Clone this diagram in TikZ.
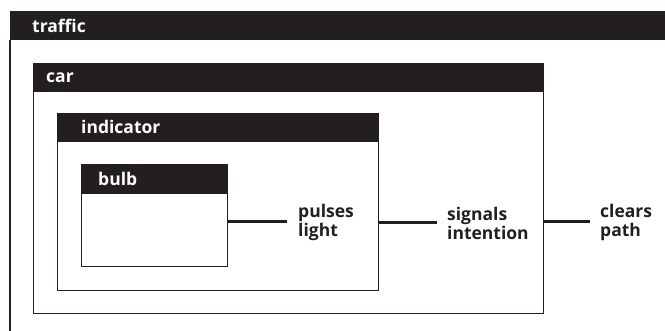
\documentclass[tikz,border=0pt]{standalone}
\usepackage{fontspec}
\setmainfont{Open Sans}
\definecolor{ink}{HTML}{231F20}
\begin{document}
\begin{tikzpicture}[x=1pt,y=-1pt,
  box/.style={draw=ink, line width=1.3pt, anchor=north west, inner sep=0pt},
  head/.style={fill=ink, draw=ink, line width=0.8pt, anchor=north west, inner sep=0pt, minimum height=28pt},
  htext/.style={anchor=base west, inner sep=0pt, text=white, font=\bfseries\fontsize{17.5}{19}\selectfont},
  lbl/.style={anchor=west, align=left, inner sep=0pt, text=ink, font=\bfseries\fontsize{17.5}{19}\selectfont},
  link/.style={draw=ink, line width=3pt}]
\useasboundingbox (0,0) rectangle (665,331);
\clip (0,0) rectangle (665,331);
% traffic
\node[head, minimum width=700pt] (trafficH) at (10,11) {};
\draw[draw=ink, line width=1.3pt] (trafficH.south west) -- ++(0,320) coordinate (trafficEnd);
\node[htext] (trafficT) at (32,33) {traffic};
% car
\node[box, minimum width=510pt, minimum height=250pt] (car) at (33,63) {};
\node[head, minimum width=510pt] (carH) at (33,63) {};
\node[htext] (carT) at (46,83) {car};
% indicator
\node[box, minimum width=321pt, minimum height=177pt] (indicator) at (57,113) {};
\node[head, minimum width=321pt] (indicatorH) at (57,113) {};
\node[htext] (indicatorT) at (81,134) {indicator};
% bulb
\node[box, minimum width=146pt, minimum height=102pt] (bulb) at (81,164) {};
\node[head, minimum width=146pt, minimum height=29pt] (bulbH) at (81,164) {};
\node[htext] (bulbT) at (98,186) {bulb};
% labels
\node[lbl] (pl) at (298,222) {pulses\\light};
\node[lbl] (si) at (447,223) {signals\\intention};
\node[lbl] (cp) at (600,222) {clears\\path};
% connectors
\draw[link] (bulb.east |- pl.west) -- ([xshift=-11pt]pl.west);
\draw[link] (indicator.east |- si.west) -- ([xshift=-10pt]si.west);
\draw[link] (car.east |- cp.west) -- ([xshift=-10pt]cp.west);
\end{tikzpicture}
\end{document}
